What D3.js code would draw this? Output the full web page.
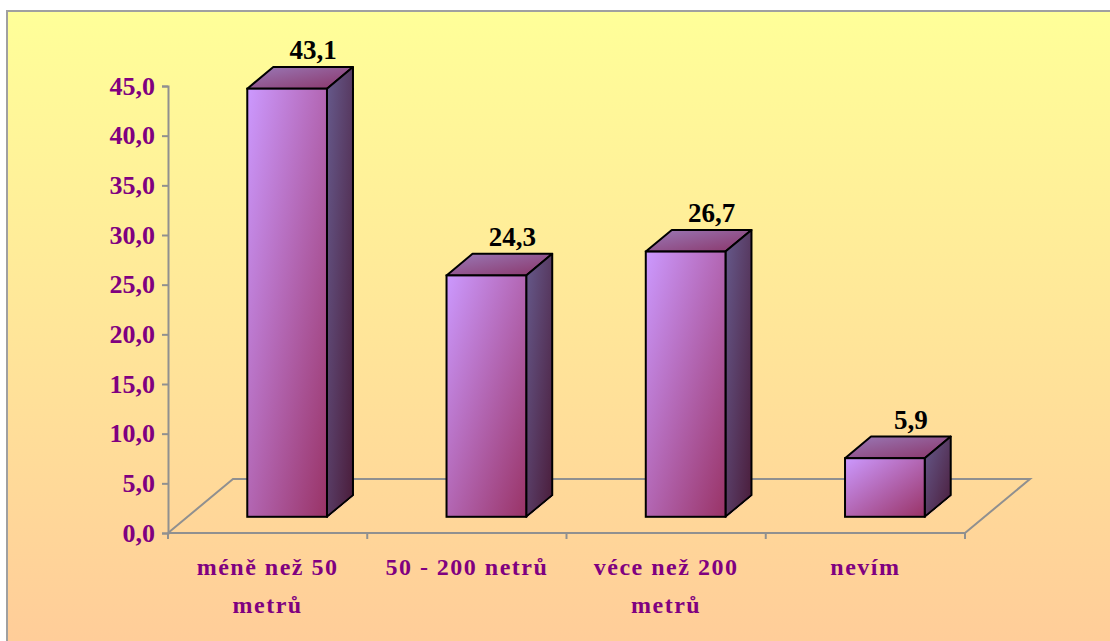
<!DOCTYPE html>
<html>
<head>
<meta charset="utf-8">
<script src="https://cdn.jsdelivr.net/npm/d3@7"></script>
<style>
  html, body { margin: 0; padding: 0; background: #ffffff; }
  svg { display: block; }
  text { font-family: "Liberation Serif", "Times New Roman", serif; font-weight: bold; }
</style>
</head>
<body>
<svg id="chart" width="1110" height="641"></svg>
<script>
// Survey answers: distance categories and their shares (%)
const categories = ["méně než 50 metrů", "50 - 200 netrů", "véce než 200 metrů", "nevím"];
const values = [43.1, 24.3, 26.7, 5.9];
const yTicks = [0, 5, 10, 15, 20, 25, 30, 35, 40, 45];

const W = 1110, H = 641;
const svg = d3.select("#chart");
const defs = svg.append("defs");

// Background gradient: yellow at the top fading to peach at the bottom
const bg = defs.append("linearGradient").attr("id", "bg")
  .attr("x1", 0).attr("y1", 0).attr("x2", 0).attr("y2", 1);
bg.append("stop").attr("offset", "0%").attr("stop-color", "#ffff99");
bg.append("stop").attr("offset", "100%").attr("stop-color", "#ffcc99");

// Bar face gradients
function grad(id, c1, c2, x2, y2) {
  const g = defs.append("linearGradient").attr("id", id)
    .attr("x1", 0).attr("y1", 0).attr("x2", x2).attr("y2", y2);
  g.append("stop").attr("offset", "0%").attr("stop-color", c1);
  g.append("stop").attr("offset", "100%").attr("stop-color", c2);
}
grad("front", "#cc99ff", "#993366", 1, 1);
grad("side", "#665a8c", "#4a1c3a", 1, 1);
grad("top", "#9a7ab8", "#8a3468", 1, 1);

// Chart area with frame
svg.append("rect").attr("x", 7).attr("y", 11).attr("width", W).attr("height", H)
  .attr("fill", "url(#bg)").attr("stroke", "#a0a0a0").attr("stroke-width", 2);

// Plot geometry: front plane + depth vector of the floor
const left = 168, right = 965, base = 533, topY = 86;
const depth = { dx: 65, dy: -54 };

const x = d3.scaleBand().domain(categories).range([left, right])
  .paddingInner(0.6).paddingOuter(0.3);
const y = d3.scaleLinear().domain([0, 45]).range([base, topY]);

// Bars sit in the middle of the depth: from 30% to 70%
const fx = depth.dx * 0.3, fy = depth.dy * 0.3;
const bdx = depth.dx * 0.4, bdy = depth.dy * 0.4;

const axisColor = "#909090";

// Floor outline
const floor = svg.append("g").attr("fill", "none").attr("stroke", axisColor).attr("stroke-width", 2);
floor.append("path").attr("d", d3.line()([
  [left, base], [left + depth.dx, base + depth.dy],
  [right + depth.dx, base + depth.dy], [right, base]
]));

// Category axis along the front edge of the floor
const xAxisG = svg.append("g");
xAxisG.append("line").attr("x1", left).attr("x2", right).attr("y1", base).attr("y2", base)
  .attr("stroke", axisColor).attr("stroke-width", 2);
const step = x.step();
d3.range(categories.length + 1).forEach(i => {
  const tx = left + i * step;
  xAxisG.append("line").attr("x1", tx).attr("x2", tx).attr("y1", base).attr("y2", base + 6)
    .attr("stroke", axisColor).attr("stroke-width", 2);
});

// Value axis
const fmt = v => d3.format(".1f")(v).replace(".", ",");
const yAxis = d3.axisLeft(y).tickValues(yTicks).tickFormat(fmt).tickSize(6).tickPadding(7);
const yg = svg.append("g").attr("transform", `translate(${left},0)`).call(yAxis);
yg.select(".domain").attr("stroke", axisColor).attr("stroke-width", 2);
yg.selectAll(".tick line").attr("stroke", axisColor).attr("stroke-width", 2);
yg.selectAll(".tick text").attr("fill", "#800080")
  .style("font-family", "'Liberation Serif', 'Times New Roman', serif")
  .style("font-weight", "bold").style("font-size", "26px");

// 3D bars
const data = categories.map((c, i) => ({ c, v: values[i] }));
const bars = svg.append("g").selectAll("g").data(data).join("g");
const bw = x.bandwidth();

bars.each(function(d) {
  const g = d3.select(this);
  const x0 = x(d.c) + fx, x1 = x0 + bw;
  const yb = y(0) + fy, yt = y(d.v) + fy;
  // top face
  g.append("path").attr("d", d3.line()([[x0, yt], [x0 + bdx, yt + bdy], [x1 + bdx, yt + bdy], [x1, yt]]) + "Z")
    .attr("fill", "url(#top)").attr("stroke", "#000").attr("stroke-width", 2).attr("stroke-linejoin", "round");
  // side face
  g.append("path").attr("d", d3.line()([[x1, yt], [x1 + bdx, yt + bdy], [x1 + bdx, yb + bdy], [x1, yb]]) + "Z")
    .attr("fill", "url(#side)").attr("stroke", "#000").attr("stroke-width", 2).attr("stroke-linejoin", "round");
  // faint highlight on the lower side edge
  g.append("line").attr("x1", x1 + 1).attr("y1", yb + 1).attr("x2", x1 + bdx + 1).attr("y2", yb + bdy + 1)
    .attr("stroke", "#f4c8a8").attr("stroke-width", 1);
  // front face
  g.append("rect").attr("x", x0).attr("y", yt).attr("width", bw).attr("height", yb - yt)
    .attr("fill", "url(#front)").attr("stroke", "#000").attr("stroke-width", 2);
  // value label above the bar
  g.append("text").attr("x", x0 + bw / 2 + bdx).attr("y", yt + bdy - 8)
    .attr("text-anchor", "middle").attr("fill", "#000").style("font-size", "27px")
    .text(fmt(d.v));
});

// Category labels, wrapped to the band width
const catG = svg.append("g");
categories.forEach(c => {
  const cx = left + (categories.indexOf(c) + 0.5) * step;
  const t = catG.append("text").attr("text-anchor", "middle").attr("fill", "#800080")
    .style("font-size", "24px").style("letter-spacing", "1.5px").attr("x", cx).attr("y", 575);
  const words = c.split(" ");
  let line = [];
  let ts = t.append("tspan").attr("x", cx).attr("dy", 0);
  words.forEach(w => {
    line.push(w);
    ts.text(line.join(" "));
    if (ts.node().getComputedTextLength() > 185 && line.length > 1) {
      line.pop();
      ts.text(line.join(" "));
      line = [w];
      ts = t.append("tspan").attr("x", cx).attr("dy", 38).text(w);
    }
  });
});
</script>
</body>
</html>
